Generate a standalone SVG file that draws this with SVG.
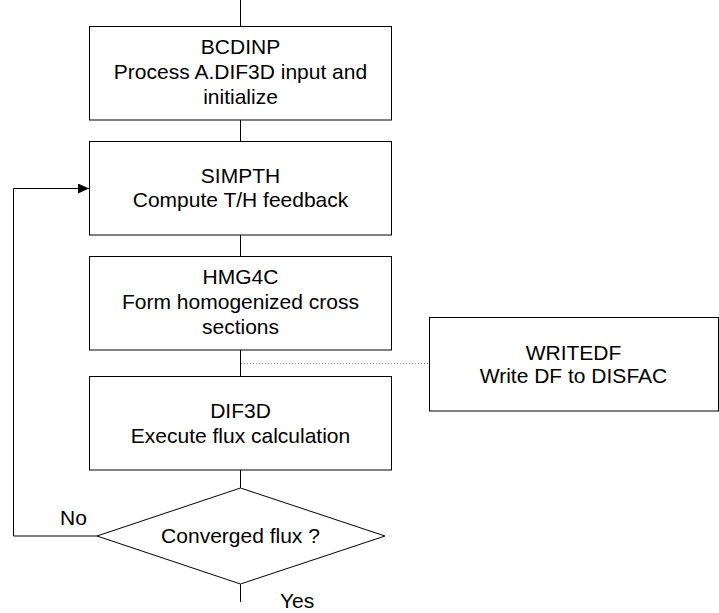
<svg xmlns="http://www.w3.org/2000/svg" width="719" height="613" viewBox="0 0 719 613">
<style>
.box{fill:#fff;stroke:#000;stroke-width:1}
.ln{fill:none;stroke:#000;stroke-width:1}
.dot{fill:none;stroke:#888;stroke-width:1;stroke-dasharray:1,2}
text{font-family:"Liberation Sans",Arial,sans-serif;font-size:21px;fill:#000;text-anchor:middle}
.l{text-anchor:start}
</style>
<defs>
<marker id="arr" markerWidth="12" markerHeight="10" refX="11" refY="5" orient="auto" markerUnits="userSpaceOnUse">
<path d="M0,0 L11,5 L0,10 Z" fill="#000"/>
</marker>
</defs>
<rect width="719" height="613" fill="#fff"/>
<g id="connectors">
<path class="ln" d="M240.5,0 V26"/>
<path class="ln" d="M240.5,120 V141"/>
<path class="ln" d="M240.5,235 V256"/>
<path class="ln" d="M240.5,350 V376"/>
<path class="ln" d="M240.5,470 V488"/>
<path class="ln" d="M240.5,584 V602"/>
<path class="ln" d="M97,536 H13.5 V188.5 H89" marker-end="url(#arr)"/>
<path class="dot" d="M241,363.5 H429"/>
</g>
<g id="bcdinp">
<rect class="box" x="89.5" y="26.5" width="302" height="93.5"/>
<text x="240.5" y="54">BCDINP</text>
<text x="240.5" y="79">Process A.DIF3D input and</text>
<text x="240.5" y="104">initialize</text>
</g>
<g id="simpth">
<rect class="box" x="89.5" y="141.5" width="302" height="93.5"/>
<text x="240.5" y="183">SIMPTH</text>
<text x="240.5" y="207">Compute T/H feedback</text>
</g>
<g id="hmg4c">
<rect class="box" x="89.5" y="256.5" width="302" height="93.5"/>
<text x="240.5" y="284">HMG4C</text>
<text x="240.5" y="309">Form homogenized cross</text>
<text x="240.5" y="334">sections</text>
</g>
<g id="dif3d">
<rect class="box" x="89.5" y="376.5" width="302" height="93.5"/>
<text x="240.5" y="418">DIF3D</text>
<text x="240.5" y="443">Execute flux calculation</text>
</g>
<g id="writedf">
<rect class="box" x="429.5" y="317.5" width="289" height="93.5"/>
<text x="573.5" y="360">WRITEDF</text>
<text x="573.5" y="383">Write DF to DISFAC</text>
</g>
<g id="converged">
<polygon class="box" points="240.5,488 385,536 240.5,584 97,536"/>
<text x="240.5" y="543">Converged flux ?</text>
</g>
<g id="labels">
<text class="l" x="60" y="525">No</text>
<text class="l" x="280" y="608">Yes</text>
</g>
</svg>
